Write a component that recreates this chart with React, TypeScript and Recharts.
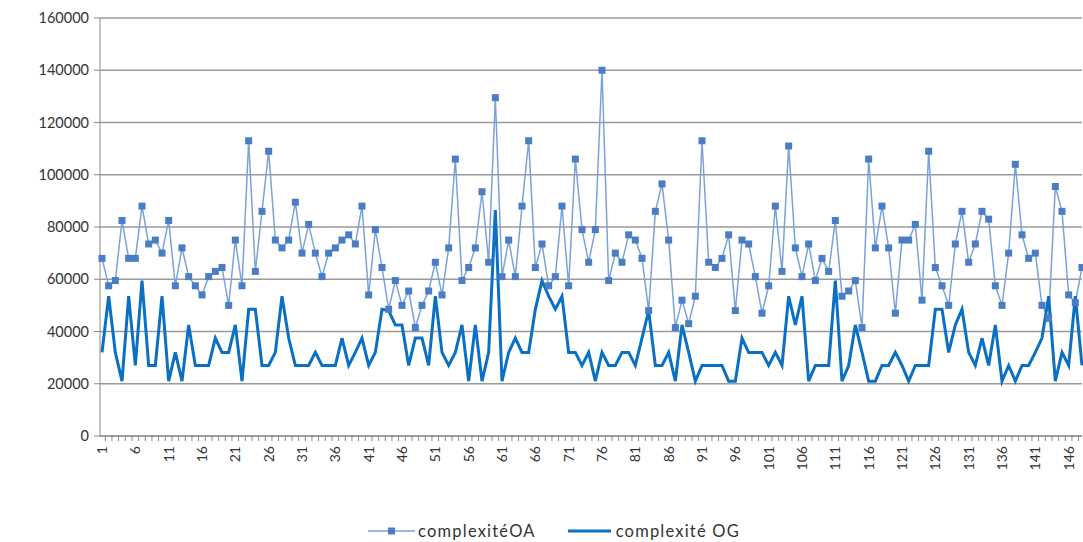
import React from 'react';
import { LineChart, Line, XAxis, YAxis, CartesianGrid } from 'recharts';

// values, index 1..148
const complexiteOA = [
  68000, 57500, 59500, 82500, 68000, 68000, 88000, 73500, 75000, 70000,
  82500, 57500, 72000, 61000, 57500, 54000, 61000, 63000, 64500, 50000,
  75000, 57500, 113000, 63000, 86000, 109000, 75000, 72000, 75000, 89500,
  70000, 81000, 70000, 61000, 70000, 72000, 75000, 77000, 73500, 88000,
  54000, 79000, 64500, 48500, 59500, 50000, 55500, 41500, 50000, 55500,
  66500, 54000, 72000, 106000, 59500, 64500, 72000, 93500, 66500, 129500,
  61000, 75000, 61000, 88000, 113000, 64500, 73500, 57500, 61000, 88000,
  57500, 106000, 79000, 66500, 79000, 140000, 59500, 70000, 66500, 77000,
  75000, 68000, 48000, 86000, 96500, 75000, 41500, 52000, 43000, 53500,
  113000, 66500, 64500, 68000, 77000, 48000, 75000, 73500, 61000, 47000,
  57500, 88000, 63000, 111000, 72000, 61000, 73500, 59500, 68000, 63000,
  82500, 53500, 55500, 59500, 41500, 106000, 72000, 88000, 72000, 47000,
  75000, 75000, 81000, 52000, 109000, 64500, 57500, 50000, 73500, 86000,
  66500, 73500, 86000, 83000, 57500, 50000, 70000, 104000, 77000, 68000,
  70000, 50000, 45000, 95500, 86000, 54000, 51000, 64500,
];

const complexiteOG = [
  32000, 53500, 32000, 21000, 53500, 27000, 59500, 27000, 27000, 53500,
  21000, 32000, 21000, 42500, 27000, 27000, 27000, 37500, 32000, 32000,
  42500, 21000, 48500, 48500, 27000, 27000, 32000, 53500, 37500, 27000,
  27000, 27000, 32000, 27000, 27000, 27000, 37500, 27000, 32000, 37500,
  27000, 32000, 48500, 48000, 42500, 42500, 27000, 37500, 37500, 27000,
  53500, 32000, 27000, 32000, 42500, 21000, 42500, 21000, 32000, 86500,
  21000, 32000, 37500, 32000, 32000, 48500, 59500, 53500, 48500, 53500,
  32000, 32000, 27000, 32000, 21000, 32000, 27000, 27000, 32000, 32000,
  27000, 37500, 48000, 27000, 27000, 32000, 21000, 42500, 32000, 21000,
  27000, 27000, 27000, 27000, 21000, 21000, 37500, 32000, 32000, 32000,
  27000, 32000, 27000, 53500, 42500, 53500, 21000, 27000, 27000, 27000,
  59500, 21000, 27000, 42500, 32000, 21000, 21000, 27000, 27000, 32000,
  27000, 21000, 27000, 27000, 27000, 48500, 48500, 32000, 42500, 48500,
  32000, 27000, 37500, 27000, 42500, 21000, 27000, 21000, 27000, 27000,
  32000, 37500, 53500, 21000, 32000, 27000, 53500, 27000,
];

const yTicks = [0, 20000, 40000, 60000, 80000, 100000, 120000, 140000, 160000];

const data = complexiteOA.map((oa, i) => ({
  idx: String(i + 1),
  oa,
  og: complexiteOG[i],
}));

const FONT = 'Lato, "Open Sans", sans-serif';
const OA_LINE = '#7aa3da';
const OA_MARK = '#4a7dc4';
const OG_LINE = '#0a70c4';

const SquareDot = (props: any) => {
  const { cx, cy } = props;
  if (cx == null || cy == null) return null;
  return <rect x={cx - 3.5} y={cy - 3.5} width={7} height={7} fill={OA_MARK} />;
};

const XTick = (props: any) => {
  const { x, y, payload, index } = props;
  const show = index % 5 === 0;
  return (
    <g>
      <line x1={x + 3.3} y1={y - 8} x2={x + 3.3} y2={y - 3} stroke="#888" strokeWidth={1} />
      {show && (
        <text
          x={0}
          y={0}
          transform={`translate(${x + 5},${y + 2}) rotate(-90)`}
          textAnchor="end"
          fontSize={14}
          fontFamily={FONT}
          fill="#333"
        >
          {payload.value}
        </text>
      )}
    </g>
  );
};

export default function App() {
  return (
    <div style={{ position: 'absolute', left: 0, top: 0, width: 1083, height: 542, background: '#fff' }}>
      <LineChart width={1083} height={542} data={data} margin={{ top: 18, right: 1, left: 0, bottom: 0 }}>
        <CartesianGrid vertical={false} stroke="#9a9a9a" strokeWidth={1.5} />
        <XAxis
          dataKey="idx"
          interval={0}
          height={106}
          padding={{ left: 2, right: 0 }}
          axisLine={{ stroke: '#888' }}
          tickLine={false}
          tick={<XTick />}
        />
        <YAxis
          width={100}
          domain={[0, 160000]}
          ticks={yTicks}
          interval={0}
          axisLine={{ stroke: '#888' }}
          tickLine={{ stroke: '#888' }}
          tickSize={6}
          tickMargin={5}
          tick={{ fill: '#333', fontSize: 14.5, fontFamily: FONT }}
        />
        <Line
          type="linear"
          dataKey="oa"
          stroke={OA_LINE}
          strokeWidth={1.5}
          dot={<SquareDot />}
          activeDot={false}
          isAnimationActive={false}
        />
        <Line
          type="linear"
          dataKey="og"
          stroke={OG_LINE}
          strokeWidth={3}
          dot={false}
          activeDot={false}
          isAnimationActive={false}
        />
      </LineChart>
      <div
        style={{
          position: 'absolute',
          top: 521,
          left: 0,
          width: 1083,
          display: 'flex',
          justifyContent: 'center',
          fontFamily: FONT,
          fontSize: 16.5,
          letterSpacing: 1.2,
          color: '#333',
          gap: 32,
          paddingLeft: 25,
          boxSizing: 'border-box',
        }}
      >
        <span style={{ display: 'flex', alignItems: 'center' }}>
          <svg width={47} height={10} style={{ marginRight: 3 }}>
            <line x1={0} y1={5} x2={47} y2={5} stroke={OA_LINE} strokeWidth={1.5} />
            <rect x={20} y={1.5} width={7} height={7} fill={OA_MARK} />
          </svg>
          complexitéOA
        </span>
        <span style={{ display: 'flex', alignItems: 'center' }}>
          <svg width={43} height={10} style={{ marginRight: 5 }}>
            <line x1={0} y1={5} x2={43} y2={5} stroke={OG_LINE} strokeWidth={3} />
          </svg>
          complexité OG
        </span>
      </div>
    </div>
  );
}
